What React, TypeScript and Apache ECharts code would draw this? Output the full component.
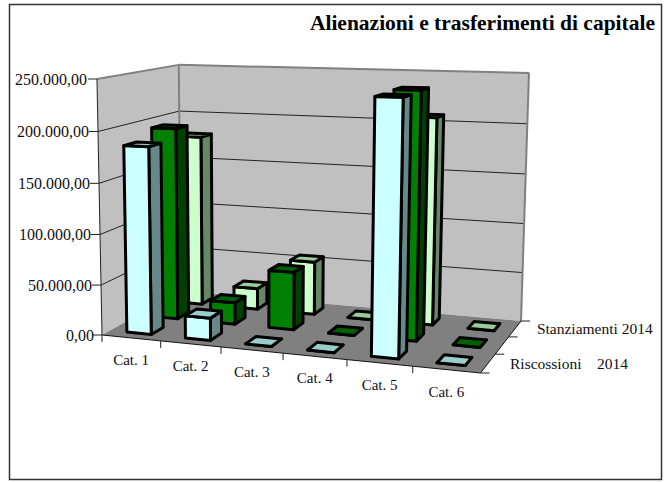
import React, { useEffect, useRef } from "react";
import * as echarts from "echarts";

const categories = ["Cat. 1", "Cat. 2", "Cat. 3", "Cat. 4", "Cat. 5", "Cat. 6"];
const frontValues = [185000, 22000, 0, 0, 239000, 0];
const middleValues = [195000, 22000, 58000, 0, 240000, 0];
const backValues = [179000, 22000, 55000, 0, 208000, 0];
const valueTicks = [0, 50000, 100000, 150000, 200000, 250000];
const valueLabels = ["0,00", "50.000,00", "100.000,00", "150.000,00", "200.000,00", "250.000,00"];
const depthLabels = ["Riscossioni\u00A0\u00A0\u00A0\u00A02014", "", "Stanziamenti 2014"];
const titleText = "Alienazioni e trasferimenti di capitale";

const FONT = '"Liberation Serif", serif';
const GRID = { left: 100, top: 79, width: 380, height: 256 };
const FL = [102, 335], FR = [480.5, 373], BR = [521, 321], BL = [181, 291];
const FLT = [97, 79];
const VP = [261, 8415];
const HEIGHT_G = -0.1014, HEIGHT_H = 0.134;
const MARGIN_U = 0.29, MARGIN_W = 0.28;

const den = (FR[0] - BR[0]) * (BL[1] - BR[1]) - (BL[0] - BR[0]) * (FR[1] - BR[1]);
const sx = FL[0] - FR[0] + BR[0] - BL[0];
const sy = FL[1] - FR[1] + BR[1] - BL[1];
const g = (sx * (BL[1] - BR[1]) - (BL[0] - BR[0]) * sy) / den;
const h = ((FR[0] - BR[0]) * sy - sx * (FR[1] - BR[1])) / den;
const a = FR[0] - FL[0] + g * FR[0], b = BL[0] - FL[0] + h * BL[0], c = FL[0];
const d = FR[1] - FL[1] + g * FR[1], e = BL[1] - FL[1] + h * BL[1], f = FL[1];
const s = (f - FLT[1]) / (FLT[1] - VP[1]);

function project(u: number, w: number, v: number): number[] {
  const q = g * u + h * w + 1;
  const x0 = (a * u + b * w + c) / q, y0 = (d * u + e * w + f) / q;
  const q2 = HEIGHT_G * u + HEIGHT_H * w + 1;
  const t = (s * v) / (q2 + s * v);
  return [x0 + (VP[0] - x0) * t, y0 + (VP[1] - y0) * t];
}

// read the horizontal / vertical fractions from the hidden axes
function axisU(api: any, cat: number, t: number) {
  const band = api.size([1, 0])[0];
  return (api.coord([cat, 0])[0] + t * band - GRID.left) / GRID.width;
}
function axisV(api: any, value: number) {
  return (GRID.top + GRID.height - api.coord([0, value])[1]) / GRID.height;
}

const line = (p: number[], q: number[], stroke: string, lineWidth: number) => ({
  type: "line",
  shape: { x1: p[0], y1: p[1], x2: q[0], y2: q[1] },
  style: { stroke, lineWidth },
});
const text = (x: number, y: number, str: string, align: string, size = 15) => ({
  type: "text",
  style: { x, y, text: str, fill: "#111", font: `${size}px ${FONT}`, align, verticalAlign: "middle" },
});

function renderScaffold(_: any, api: any) {
  const children: any[] = [];
  const poly = (pts: number[][], fill: string) => ({
    type: "polygon",
    shape: { points: pts },
    style: { fill, stroke: "none" },
  });
  const left0 = axisU(api, 0, -0.5);
  const right1 = axisU(api, categories.length - 1, 0.5);
  const top = axisV(api, valueTicks[valueTicks.length - 1]);
  children.push(poly([project(left0, 0, 0), project(left0, 1, 0), project(left0, 1, top), project(left0, 0, top)], "#C0C0C0"));
  children.push(poly([project(left0, 1, 0), project(right1, 1, 0), project(right1, 1, top), project(left0, 1, top)], "#C0C0C0"));
  children.push(poly([project(left0, 0, 0), project(right1, 0, 0), project(right1, 1, 0), project(left0, 1, 0)], "#808080"));

  valueTicks.forEach((t, i) => {
    const v = axisV(api, t);
    const p0 = project(left0, 0, v), p1 = project(left0, 1, v), p2 = project(right1, 1, v);
    if (i > 0 && i < valueTicks.length - 1) {
      children.push(line(p0, p1, "#222", 1), line(p1, p2, "#222", 1));
    }
    children.push(line([p0[0] - 9, p0[1]], p0, "#222", 1));
    children.push(text(p0[0] - 9 - (i === valueTicks.length - 1 ? 1 : 0) + (i === 0 ? 1 : 0), p0[1], valueLabels[i], "right", 16));
  });
  children.push(line(project(left0, 0, top), project(left0, 1, top), "#808080", 2));
  children.push(line(project(left0, 1, top), project(right1, 1, top), "#808080", 2));
  children.push(line(project(left0, 1, 0), project(left0, 1, top), "#808080", 2));
  children.push(line(project(right1, 1, 0), project(right1, 1, top), "#808080", 2));
  children.push(line(project(left0, 0, 0), project(left0, 0, top), "#222", 1));
  children.push(line(project(left0, 0, 0), project(right1, 0, 0), "#111", 1));
  children.push(line(project(right1, 0, 0), project(right1, 1, 0), "#111", 1));

  categories.forEach((name, i) => {
    const p = project(axisU(api, i, -0.5), 0, 0);
    children.push(line(p, [p[0], p[1] + 7], "#222", 1));
    const m = project(axisU(api, i, 0), 0, 0);
    children.push(text(m[0], m[1] + 22, name, "center"));
  });
  depthLabels.forEach((name, i) => {
    const pp = project(right1, i / depthLabels.length, 0);
    children.push(line(pp, [pp[0] + 9, pp[1]], "#222", 1));
    if (name) {
      const m = project(right1, (i + 0.5) / depthLabels.length, 0);
      children.push(text(m[0] + 22, m[1], name, "left", 15.5));
    }
  });
  const pb = project(right1, 1, 0);
  children.push(line(pb, [pb[0] + 9, pb[1]], "#222", 1));
  return { type: "group", children };
}

function barRenderer(slot: number, fronts: string, sides: string, tops: string) {
  return (_: any, api: any) => {
    const cat = api.value(0);
    const u0 = axisU(api, cat, -0.5 + MARGIN_U), u1 = axisU(api, cat, 0.5 - MARGIN_U);
    const w0 = (slot + MARGIN_W) / 3, w1 = (slot + 1 - MARGIN_W) / 3;
    const v = axisV(api, api.value(1));
    const style = (fill: string) => ({ fill, stroke: "#000", lineWidth: 3, lineJoin: "round" });
    const face = (pts: number[][], fill: string) => ({ type: "polygon", shape: { points: pts }, style: style(fill) });
    return {
      type: "group",
      children: [
        face([project(u1, w0, 0), project(u1, w1, 0), project(u1, w1, v), project(u1, w0, v)], sides),
        face([project(u0, w0, 0), project(u1, w0, 0), project(u1, w0, v), project(u0, w0, v)], fronts),
        face([project(u0, w0, v), project(u1, w0, v), project(u1, w1, v), project(u0, w1, v)], tops),
      ],
    };
  };
}

const rows = (values: number[]) => values.map((value, i) => [i, value]);

export default function App() {
  const ref = useRef<HTMLDivElement>(null);
  useEffect(() => {
    const chart = echarts.init(ref.current!, undefined, { renderer: "svg" });
    chart.setOption({
      animation: false,
      backgroundColor: "#fff",
      title: {
        text: titleText,
        right: 7,
        top: 7,
        textStyle: { fontFamily: FONT, fontWeight: "bold", fontSize: 21.5, color: "#000" },
      },
      grid: { ...GRID },
      xAxis: { type: "category", data: categories, show: false },
      yAxis: { type: "value", min: 0, max: 250000, interval: 50000, show: false },
      graphic: [
        {
          type: "rect",
          shape: { x: 9.5, y: 4.5, width: 652, height: 475 },
          style: { fill: "none", stroke: "#333", lineWidth: 1.5 },
          silent: true,
        },
      ],
      series: [
        { type: "custom", silent: true, clip: false, renderItem: renderScaffold, data: [[0, 0]], encode: { x: 0, y: 1 } },
        { type: "custom", name: "Stanziamenti 2014", silent: true, clip: false, renderItem: barRenderer(2, "#CCFFCC", "#668866", "#99CC99"), data: rows(backValues), encode: { x: 0, y: 1 } },
        { type: "custom", name: "Serie 2", silent: true, clip: false, renderItem: barRenderer(1, "#008000", "#004000", "#006000"), data: rows(middleValues), encode: { x: 0, y: 1 } },
        { type: "custom", name: "Riscossioni 2014", silent: true, clip: false, renderItem: barRenderer(0, "#CCFFFF", "#668888", "#99CCCC"), data: rows(frontValues), encode: { x: 0, y: 1 } },
      ],
    });
    return () => chart.dispose();
  }, []);
  return <div ref={ref} style={{ position: "absolute", left: 0, top: 0, width: 667, height: 482 }} />;
}
